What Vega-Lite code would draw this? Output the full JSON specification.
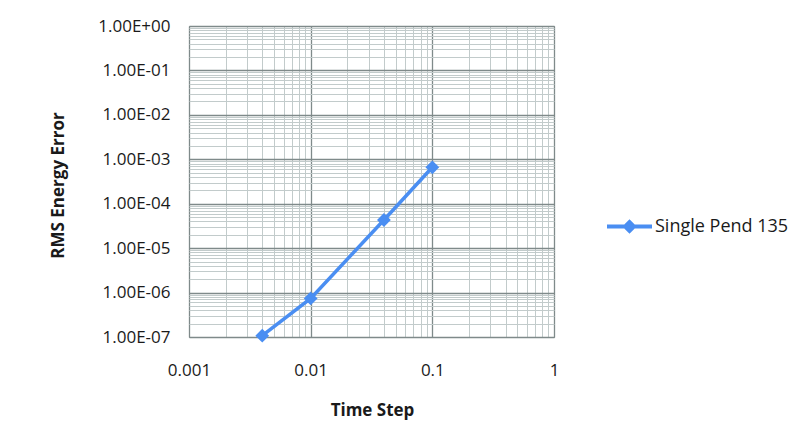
{
  "$schema": "https://vega.github.io/schema/vega-lite/v6.json",
  "autosize": {"type": "none"},
  "padding": {"left": 189, "top": 26, "right": 249, "bottom": 111},
  "width": 365,
  "height": 311,
  "background": "white",
  "config": {
    "font": "Open Sans",
    "view": {"stroke": "#8a9494", "strokeWidth": 1},
    "axis": {
      "domain": false,
      "ticks": false,
      "tickSize": 0,
      "labelFont": "Open Sans",
      "labelFontSize": 17,
      "labelColor": "#1a1a1a",
      "labelOverlap": false,
      "labelFlush": false,
      "labelBound": false,
      "titleFont": "Open Sans",
      "titleFontSize": 17,
      "titleFontWeight": "bold",
      "titleColor": "#1a1a1a"
    }
  },
  "data": {
    "values": [
      {"dt": 0.004, "err": 1.07e-7, "series": "Single Pend 135"},
      {"dt": 0.01, "err": 7.4e-7, "series": "Single Pend 135"},
      {"dt": 0.04, "err": 4.3e-5, "series": "Single Pend 135"},
      {"dt": 0.1, "err": 6.6e-4, "series": "Single Pend 135"}
    ]
  },
  "encoding": {
    "x": {
      "field": "dt",
      "type": "quantitative",
      "scale": {"type": "log", "domain": [0.001, 1], "nice": false},
      "axis": {
        "title": "Time Step",
        "titleX": 183,
        "titleY": 73,
        "titleBaseline": "middle",
        "labelPadding": 25,
        "values": [0.001, 0.002, 0.003, 0.004, 0.005, 0.006, 0.007, 0.008, 0.009,
                   0.01, 0.02, 0.03, 0.04, 0.05, 0.06, 0.07, 0.08, 0.09,
                   0.1, 0.2, 0.3, 0.4, 0.5, 0.6, 0.7, 0.8, 0.9, 1],
        "labelExpr": "abs(log(datum.value)/LN10 - round(log(datum.value)/LN10)) < 0.001 ? '' + datum.value : ''",
        "grid": true,
        "gridColor": {
          "condition": {"test": "abs(log(datum.value)/LN10 - round(log(datum.value)/LN10)) < 0.001", "value": "#7f8a8a"},
          "value": "#c2cbcb"
        },
        "gridWidth": {
          "condition": {"test": "abs(log(datum.value)/LN10 - round(log(datum.value)/LN10)) < 0.001", "value": 1.3},
          "value": 1
        }
      }
    },
    "y": {
      "field": "err",
      "type": "quantitative",
      "scale": {"type": "log", "domain": [1e-7, 1], "nice": false},
      "axis": {
        "title": "RMS Energy Error",
        "titleAngle": -90,
        "titleX": -131,
        "titleY": 159,
        "titleAlign": "center",
        "titleBaseline": "middle",
        "labelPadding": 19,
        "values": [1e-7, 2e-7, 3e-7, 4e-7, 5e-7, 6e-7, 7e-7, 8e-7, 9e-7,
                   1e-6, 2e-6, 3e-6, 4e-6, 5e-6, 6e-6, 7e-6, 8e-6, 9e-6,
                   1e-5, 2e-5, 3e-5, 4e-5, 5e-5, 6e-5, 7e-5, 8e-5, 9e-5,
                   1e-4, 2e-4, 3e-4, 4e-4, 5e-4, 6e-4, 7e-4, 8e-4, 9e-4,
                   0.001, 0.002, 0.003, 0.004, 0.005, 0.006, 0.007, 0.008, 0.009,
                   0.01, 0.02, 0.03, 0.04, 0.05, 0.06, 0.07, 0.08, 0.09,
                   0.1, 0.2, 0.3, 0.4, 0.5, 0.6, 0.7, 0.8, 0.9, 1],
        "labelExpr": "abs(log(datum.value)/LN10 - round(log(datum.value)/LN10)) < 0.001 ? '1.00E' + (round(log(datum.value)/LN10) < 0 ? '-0' + abs(round(log(datum.value)/LN10)) : '+00') : ''",
        "grid": true,
        "gridColor": {
          "condition": {"test": "abs(log(datum.value)/LN10 - round(log(datum.value)/LN10)) < 0.001", "value": "#7f8a8a"},
          "value": "#c2cbcb"
        },
        "gridWidth": {
          "condition": {"test": "abs(log(datum.value)/LN10 - round(log(datum.value)/LN10)) < 0.001", "value": 1.3},
          "value": 1
        }
      }
    }
  },
  "layer": [
    {
      "mark": {"type": "line", "color": "#4a8ef2", "strokeWidth": 3.5, "clip": false}
    },
    {
      "mark": {"type": "point", "shape": "diamond", "filled": true, "size": 190, "opacity": 1, "clip": false},
      "encoding": {
        "color": {
          "field": "series",
          "type": "nominal",
          "scale": {"range": ["#4a8ef2"]},
          "legend": {
            "title": null,
            "orient": "none",
            "legendX": 418,
            "legendY": 178,
            "padding": 0,
            "symbolType": "M-1,-0.085L1,-0.085L1,0.085L-1,0.085Z M0,-0.32L0.32,0L0,0.32L-0.32,0Z",
            "symbolSize": 2025,
            "symbolStrokeWidth": 0,
            "symbolOpacity": 1,
            "labelOffset": 3,
            "labelFont": "Open Sans",
            "labelFontSize": 18,
            "labelColor": "#1a1a1a",
            "labelLimit": 300
          }
        }
      }
    }
  ]
}
